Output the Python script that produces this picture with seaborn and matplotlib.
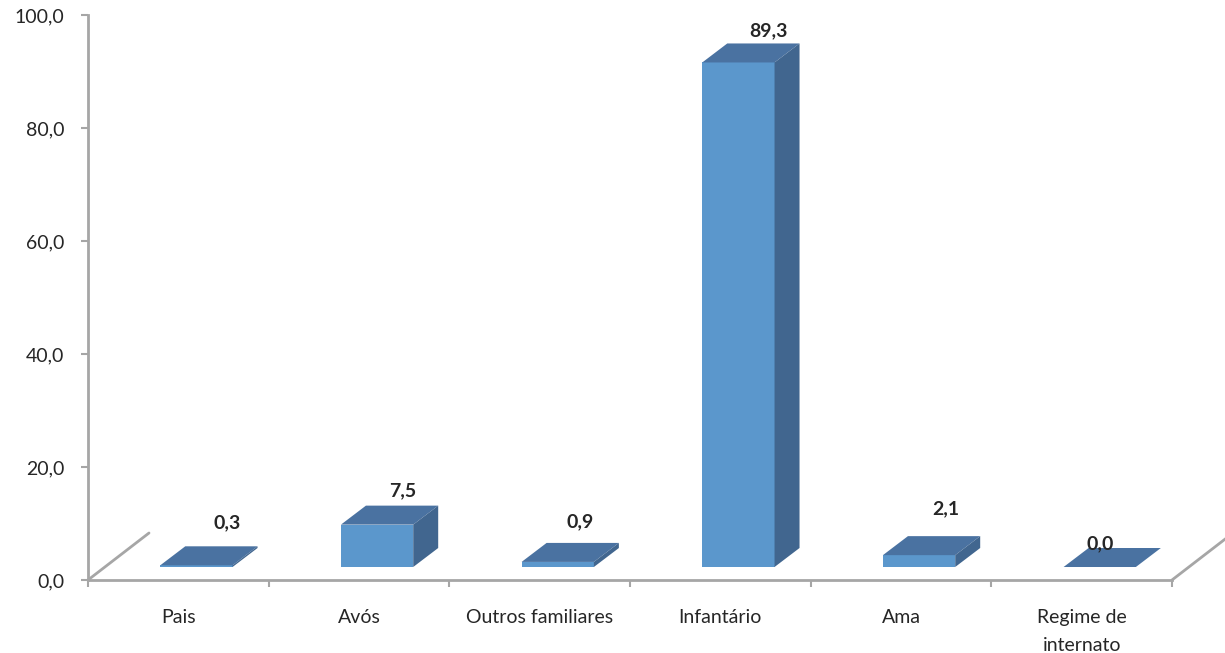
# plot.py
# 3D-look column chart (Excel style) drawn with seaborn + matplotlib patches

import numpy as np
import pandas as pd
import matplotlib
matplotlib.use('Agg')
import matplotlib.pyplot as plt
from matplotlib.patches import Polygon
import seaborn as sns

categories = ['Pais', 'Avós', 'Outros familiares', 'Infantário', 'Ama', 'Regime de\ninternato']
values = [0.3, 7.5, 0.9, 89.3, 2.1, 0.0]
y_ticks = [0, 20, 40, 60, 80, 100]

# label nudges in pixels (x, height above back-top edge), mimicking Excel placement
label_nudge_x = [6, 1, -3, 5, 2, -25]
label_nudge_y = [24, 15, 21, 13, 27, 4]

FRONT = '#5B97CC'
TOP = '#4A72A1'
SIDE = '#41668F'
AXIS = '#A6A6A6'

sns.set_style('white')
plt.rcParams['font.family'] = ['Lato', 'DejaVu Sans']

W, H = 1225, 653
fig = plt.figure(figsize=(W / 100, H / 100), dpi=100)
left, right, top, bottom = 88, 1172, 15, 580
ax = fig.add_axes([left / W, 1 - bottom / H, (right - left) / W, (bottom - top) / H])

df = pd.DataFrame({'cat': categories, 'val': values})
sns.barplot(data=df, x='cat', y='val', color=FRONT, width=0.4,
            saturation=1, linewidth=0, ax=ax)

ax.set_xlim(-0.5, len(categories) - 0.5)
ax.set_ylim(0, 100)

# pixel -> data conversions for the fake depth
px_x = len(categories) / (right - left)
px_y = 100 / (bottom - top)
dx, dy = 25 * px_x, 19 * px_y
base = 2.3
shift = 0.1

for p, v, nx, ny in zip(ax.patches, values, label_nudge_x, label_nudge_y):
    p.set_x(p.get_x() + shift)
    p.set_y(base)
    x0 = p.get_x()
    x1 = x0 + p.get_width()
    t = base + v
    ax.add_patch(Polygon([(x0, t), (x1, t), (x1 + dx, t + dy), (x0 + dx, t + dy)],
                         closed=True, facecolor=TOP, edgecolor='none', zorder=3))
    if v > 0:
        ax.add_patch(Polygon([(x1, base), (x1 + dx, base + dy), (x1 + dx, t + dy), (x1, t)],
                             closed=True, facecolor=SIDE, edgecolor='none', zorder=3))
    ax.text((x0 + x1) / 2 + dx + nx * px_x, t + dy + ny * px_y, f'{v:.1f}'.replace('.', ','),
            ha='center', va='center', fontsize=14, fontweight='bold', zorder=4)

# floor edges
fdx, fdy = 61 * px_x, 47 * px_y
for xe in [-0.5, len(categories) - 0.5]:
    ax.plot([xe, xe + fdx], [0, fdy], color=AXIS, lw=2, clip_on=False, zorder=2)

for s in ['top', 'right']:
    ax.spines[s].set_visible(False)
for s in ['left', 'bottom']:
    ax.spines[s].set_color(AXIS)
    ax.spines[s].set_linewidth(2)

ax.set_yticks(y_ticks)
ax.set_yticklabels([f'{t:.1f}'.replace('.', ',') for t in y_ticks], fontsize=14)
ax.tick_params(axis='y', direction='out', length=5, width=1.5, color=AXIS, pad=12, left=True)

ax.set_xticks(range(len(categories)))
ax.set_xticklabels(categories, fontsize=14, linespacing=1.8)
ax.set_xticks(np.arange(-0.5, len(categories)), minor=True)
ax.tick_params(axis='x', which='major', length=0, pad=21)
ax.tick_params(axis='x', which='minor', direction='out', length=5, width=1.5, color=AXIS, bottom=True)

ax.set_xlabel('')
ax.set_ylabel('')

fig.savefig('out.png', dpi=100)
